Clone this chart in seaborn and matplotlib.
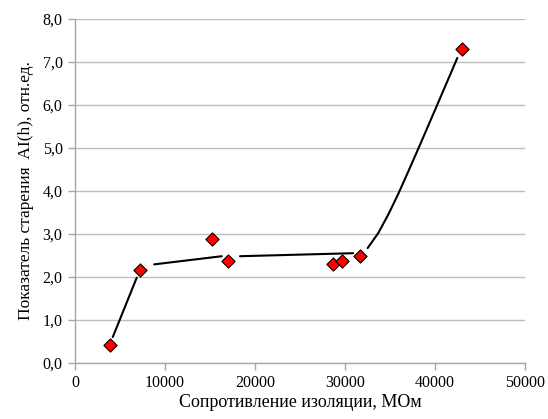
import numpy as np
import pandas as pd
import matplotlib
matplotlib.use("Agg")
import matplotlib.pyplot as plt
import seaborn as sns

# measured points
resistance = [3900, 7200, 15250, 17050, 28700, 29700, 31700, 43050]
aging_index = [0.41, 2.15, 2.88, 2.38, 2.31, 2.36, 2.49, 7.29]

# hand-drawn trend segments (x, y vertices)
seg1_x = [4190, 6850]
seg1_y = [0.60, 1.98]
seg2_x = [8780, 16300]
seg2_y = [2.29, 2.48]
seg3_x = [18330, 30900]
seg3_y = [2.48, 2.55]
seg4_x = [32520, 33700, 34810, 35920, 37030, 38330, 40370, 42480]
seg4_y = [2.67, 3.02, 3.45, 3.93, 4.45, 5.07, 6.06, 7.09]

x_ticks = [0, 10000, 20000, 30000, 40000, 50000]
y_ticks = [0, 1, 2, 3, 4, 5, 6, 7, 8]

sns.set_theme(style="whitegrid")
plt.rcParams['font.family'] = ['Liberation Serif', 'DejaVu Serif']

fig = plt.figure(figsize=(5.48, 4.19), dpi=100)
ax = fig.add_axes([0.137, 0.134, 0.821, 0.821])

for sx, sy in [(seg1_x, seg1_y), (seg2_x, seg2_y), (seg3_x, seg3_y), (seg4_x, seg4_y)]:
    seg = pd.DataFrame({'x': sx, 'y': sy})
    sns.lineplot(data=seg, x='x', y='y', sort=False, estimator=None,
                 color='black', linewidth=1.5, solid_joinstyle='round', ax=ax)

df = pd.DataFrame({'r': resistance, 'a': aging_index})
sns.scatterplot(data=df, x='r', y='a', marker='D', s=45, color='#ff0000',
                edgecolor='black', linewidth=0.8, zorder=5, ax=ax)

ax.set_xlim(0, 50000)
ax.set_ylim(0, 8)
ax.set_xticks(x_ticks)
ax.set_xticklabels([str(t) for t in x_ticks])
ax.set_yticks(y_ticks)
ax.set_yticklabels([f"{t:.1f}".replace('.', ',') for t in y_ticks])

ax.set_facecolor('white')
ax.grid(axis='y', color='#bdbdbd', linewidth=1.0)
ax.grid(axis='x', visible=False)
for side in ['top', 'right']:
    ax.spines[side].set_visible(False)
for side in ['left', 'bottom']:
    ax.spines[side].set_visible(True)
    ax.spines[side].set_color('#a6a6a6')
    ax.spines[side].set_linewidth(1.0)

ax.tick_params(axis='both', which='major', direction='out', length=5, width=1,
               color='#a6a6a6', labelsize=11.5, labelcolor='black', pad=4,
               left=True, bottom=True)

ax.set_xlabel('Сопротивление изоляции, МОм', fontsize=13, color='black', labelpad=2)
ax.set_ylabel('Показатель старения  AI(h), отн.ед.', fontsize=12.5, color='black', labelpad=6)

fig.savefig('out.png', dpi=100)
